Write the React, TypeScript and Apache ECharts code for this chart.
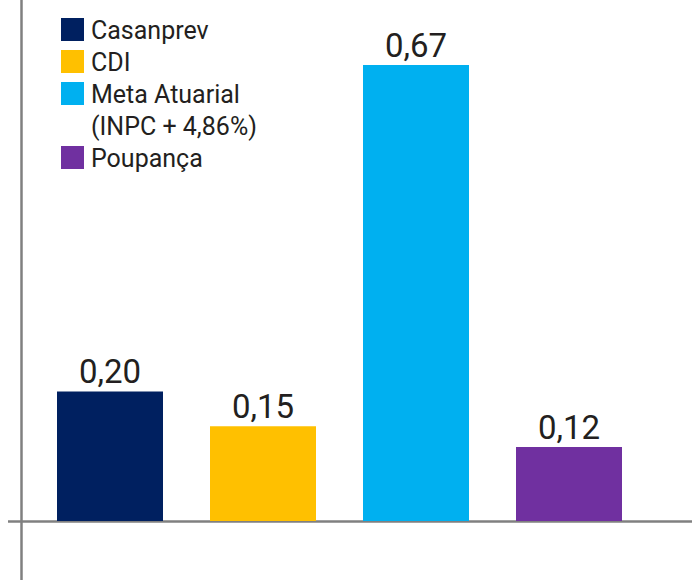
import React, { useEffect, useRef } from "react";
import * as echarts from "echarts";

const categories = ["Casanprev", "CDI", "Meta Atuarial\n(INPC + 4,86%)", "Poupança"];
const values = [0.2, 0.15, 0.67, 0.12];
const colors = ["#002060", "#FFC000", "#00B0F0", "#7030A0"];

export default function App() {
  const ref = useRef<HTMLDivElement>(null);
  useEffect(() => {
    if (!ref.current) return;
    const chart = echarts.init(ref.current, undefined, { renderer: "svg" });
    const fontFamily = "Roboto, 'Noto Sans', sans-serif";
    const series = categories.map((name, i) => ({
      type: "bar",
      name,
      stack: "all",
      barWidth: 106,
      data: values.map((v, j) => (j === i ? v : "-")),
      itemStyle: { color: colors[i] },
      label: {
        show: true,
        position: "top",
        distance: 3,
        fontSize: 33,
        fontFamily,
        color: "#231F20",
        formatter: (p: any) => Number(p.value).toFixed(2).replace(".", ","),
      },
    }));

    // legend drawn as graphic (first line aligned with the swatch)
    const legendEls: any[] = [];
    let y = 18;
    categories.forEach((name, i) => {
      const lines = name.split("\n").length;
      legendEls.push({
        type: "rect",
        shape: { x: 61, y, width: 23, height: 23 },
        style: { fill: colors[i] },
      });
      legendEls.push({
        type: "text",
        x: 91,
        y: y - 4,
        style: {
          text: name,
          fontSize: 25,
          lineHeight: 32,
          fontFamily,
          fill: "#231F20",
          verticalAlign: "top",
        },
      });
      y += 32 * lines;
    });

    chart.setOption({
      animation: false,
      grid: { left: 33.5, right: 46.5, top: 0, bottom: 59 },
      xAxis: {
        type: "category",
        data: categories,
        axisLine: { show: false },
        axisTick: { show: false },
        axisLabel: { show: false },
      },
      yAxis: {
        type: "value",
        min: 0.0134,
        max: 0.7636,
        startValue: 0.0134,
        axisLine: { show: false },
        axisTick: { show: false },
        axisLabel: { show: false },
        splitLine: { show: false },
      },
      series,
      graphic: [
        {
          type: "line",
          z: 0,
          shape: { x1: 21.5, y1: 0, x2: 21.5, y2: 580 },
          style: { stroke: "#808080", lineWidth: 2.5 },
        },
        {
          type: "line",
          z: 0,
          shape: { x1: 8, y1: 521.5, x2: 692, y2: 521.5 },
          style: { stroke: "#808080", lineWidth: 2.5 },
        },
        ...legendEls,
      ],
    });
    return () => chart.dispose();
  }, []);
  return (
    <div
      ref={ref}
      style={{ position: "absolute", left: 0, top: 0, width: 692, height: 580, background: "#fff" }}
    />
  );
}
